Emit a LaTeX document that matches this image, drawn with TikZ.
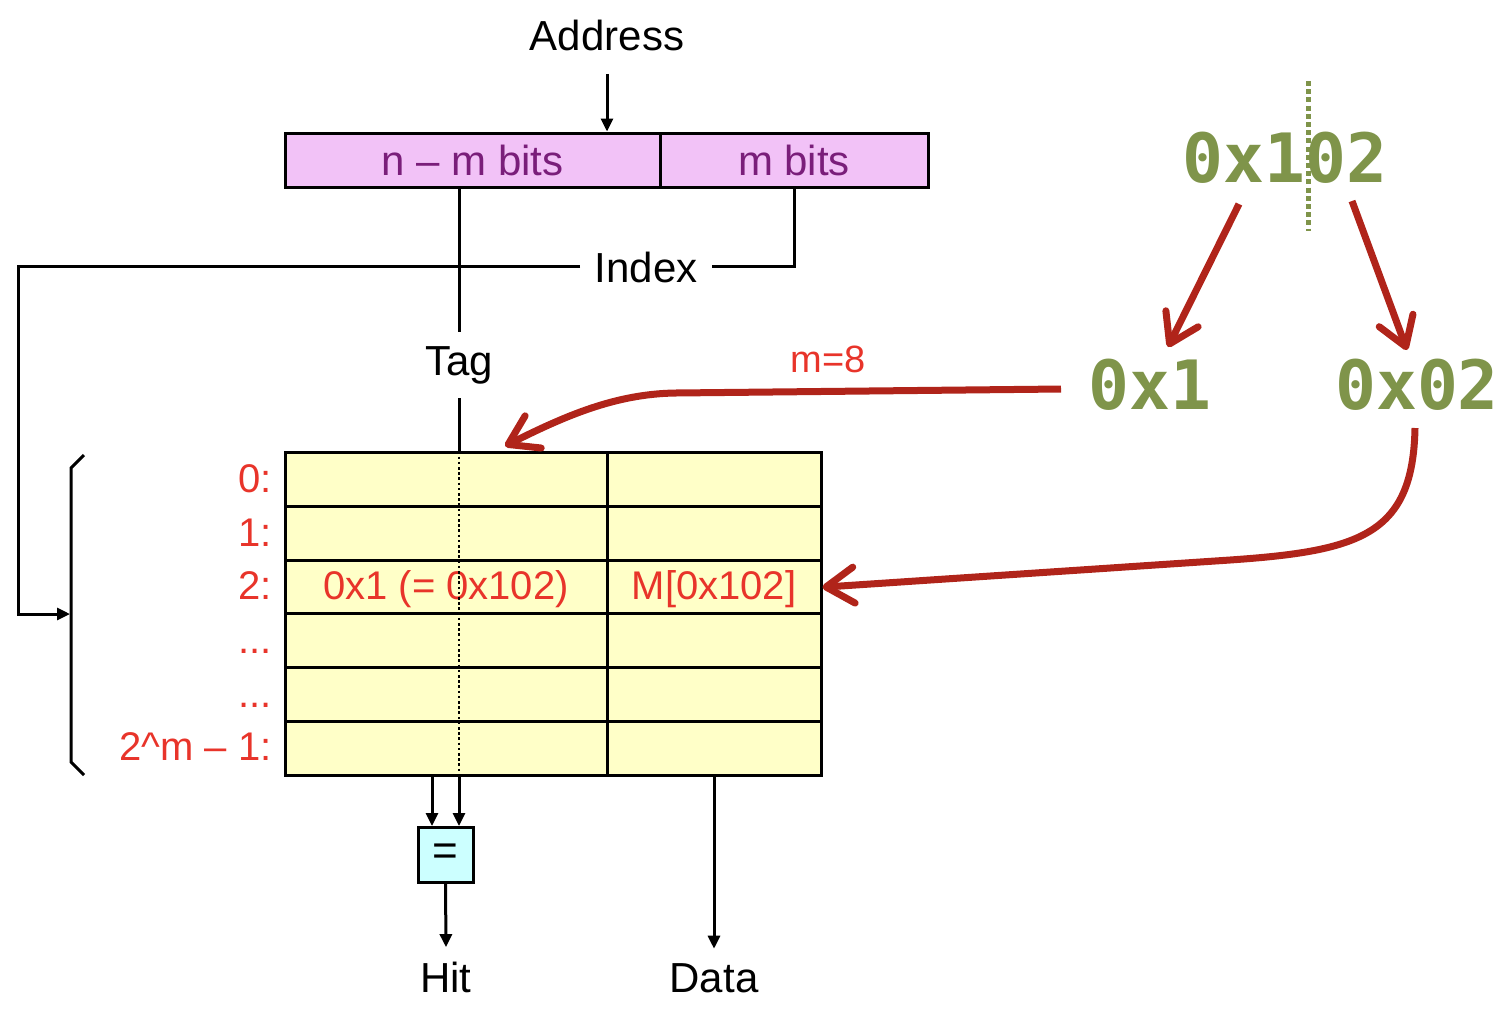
\documentclass[tikz,border=0pt]{standalone}
\usepackage{fontspec}
\setmainfont{Liberation Sans}
\newfontfamily\gmono{DejaVu Sans Mono}
\usetikzlibrary{arrows.meta,calc}
\definecolor{pinkfill}{RGB}{242,194,247}
\definecolor{purpletxt}{RGB}{122,30,122}
\definecolor{yellowfill}{RGB}{255,255,200}
\definecolor{cyanfill}{RGB}{204,255,255}
\definecolor{redtxt}{RGB}{232,52,42}
\definecolor{darkred}{RGB}{176,36,26}
\definecolor{olive}{RGB}{127,148,74}
\tikzset{
  lbl/.style={font=\fontsize{21}{25}\selectfont, text=black, inner sep=7pt},
  addrcell/.style={draw, line width=1.5pt, fill=pinkfill, minimum height=27pt, inner sep=0pt,
    text=purpletxt, font=\fontsize{21}{25}\selectfont},
  tcell/.style={draw, line width=1.5pt, fill=yellowfill, minimum height=26.83pt, inner sep=0pt,
    text=redtxt, font=\fontsize{20}{24}\selectfont},
  colA/.style={tcell, minimum width=161pt},
  colB/.style={tcell, minimum width=107pt},
  rowlbl/.style={anchor=base east, inner sep=0pt, text=redtxt, font=\fontsize{20}{24}\selectfont},
  cmpbox/.style={draw, line width=1.5pt, fill=cyanfill, minimum width=27.5pt, minimum height=27.5pt,
    inner sep=0pt, font=\fontsize{22}{26}\selectfont},
  wire/.style={line width=1.5pt},
  blk/.style={wire, -{Triangle[length=6.5pt,width=6pt]}},
  green/.style={anchor=base, text=olive, inner sep=0pt, font=\fontsize{34}{40}\selectfont\gmono\bfseries},
  rarrow/.style={line width=3.5pt, darkred, -{Straight Barb[length=14pt,width=18pt,round]}},
}
\begin{document}
\begin{tikzpicture}[x=0.5pt,y=-0.5pt]
\useasboundingbox (0,0) rectangle (1510,1014);

% address
\node[lbl, anchor=base] (addr) at (607,50) {Address};
\node[addrcell, minimum width=187.5pt] (nm) at (472.5,160) {n – m bits};
\node[addrcell, minimum width=134pt] (mb) at (794,160) {m bits};
\draw[blk] ([yshift=-4.5pt]addr.south) -- (addr.south |- nm.north);

% table
\foreach \r/\y in {0/479.8,1/533.5,2/587.2,3/640.8,4/694.5,5/748.2}{
  \node[colA] (r\r a) at (446,\y) {};
  \node[colB] (r\r b) at (714,\y) {};
}
\node[tcell, draw=none, fill=none] (c2a) at ([yshift=-1pt]r2a) {0x1 (= 0x102)};
\node[tcell, draw=none, fill=none] (c2b) at ([yshift=-1pt]r2b) {M[0x102]};

% row labels
\node[rowlbl] (l0) at (272,492) {0:};
\node[rowlbl] (l1) at (272,546) {1:};
\node[rowlbl] (l2) at (272,599) {2:};
\node[rowlbl] (l3) at (272,653) {...};
\node[rowlbl] (l4) at (272,707) {...};
\node[rowlbl] (l5) at (272,760) {2\^{}m – 1:};

% brace
\draw[wire] (84,455) -- (71,468) -- (71,762) -- (84,775);

% tag
\node[lbl, anchor=base] (tag) at (459,375) {Tag};
\coordinate (tagx) at (459,0);
\coordinate (tagtop) at (tagx |- r0a.north);
\coordinate (tagbot) at (tagx |- r5a.south);
\draw[wire] (nm.south -| tagx) -- (tag.north);
\draw[wire] (tag.south) -- (tagtop);
\draw[line width=1.3pt, dash pattern=on 1.3pt off 1.3pt] (tagtop) -- (tagbot);

% index
\node[lbl, anchor=base] (idx) at (646,282) {Index};
\coordinate (bl) at (18,614);
\coordinate (brtip) at (70,614);
\draw[wire] (mb.south) |- (idx.east);
\draw[blk] (idx.west) -| (bl) -- (brtip);

% comparator
\node[cmpbox] (cmp) at (445.5,855) {=};
\coordinate (cinL) at (432,0);
\draw[blk] (r5a.south -| cinL) -- (cmp.north -| cinL);
\draw[blk] (tagbot) -- (cmp.north -| tagbot);

% outputs
\node[lbl, anchor=base] (hit) at (446,992) {Hit};
\node[lbl, anchor=base] (data) at (714,992) {Data};
\draw[blk] (cmp.south) -- (hit.north);
\draw[blk] (r5b.south -| data) -- (data.north);

% green values
\node[green] (g102) at (1285,182) {0x102};
\node[green] (g1) at (1150,409) {0x1};
\node[green] (g02) at (1417,409) {0x02};
\draw[olive, line width=2.5pt, dash pattern=on 2.5pt off 1.6pt] (1308,81) -- (1308,231);

% red arrows
\coordinate (s1) at (1239,204);
\coordinate (e1) at (1168,347);
\coordinate (s2) at (1352,201);
\coordinate (e2) at (1407,350);
\draw[rarrow] (s1) -- (e1);
\draw[rarrow] (s2) -- (e2);

\coordinate (s3) at (1061,389);
\coordinate (b3) at (675,393);
\coordinate (e3) at (505,446);
\draw[rarrow] (s3) -- (b3) .. controls (615,394) and (565,416) .. (e3);
\node[anchor=base, inner sep=0pt, text=redtxt, font=\fontsize{19}{23}\selectfont] (m8) at (828,372) {m=8};

\coordinate (s4) at (1415,428);
\coordinate (b4) at (1230,560);
\draw[rarrow] (s4) .. controls (1413,535) and (1360,551) .. (b4) -- (r2b.east);
\end{tikzpicture}
\end{document}
